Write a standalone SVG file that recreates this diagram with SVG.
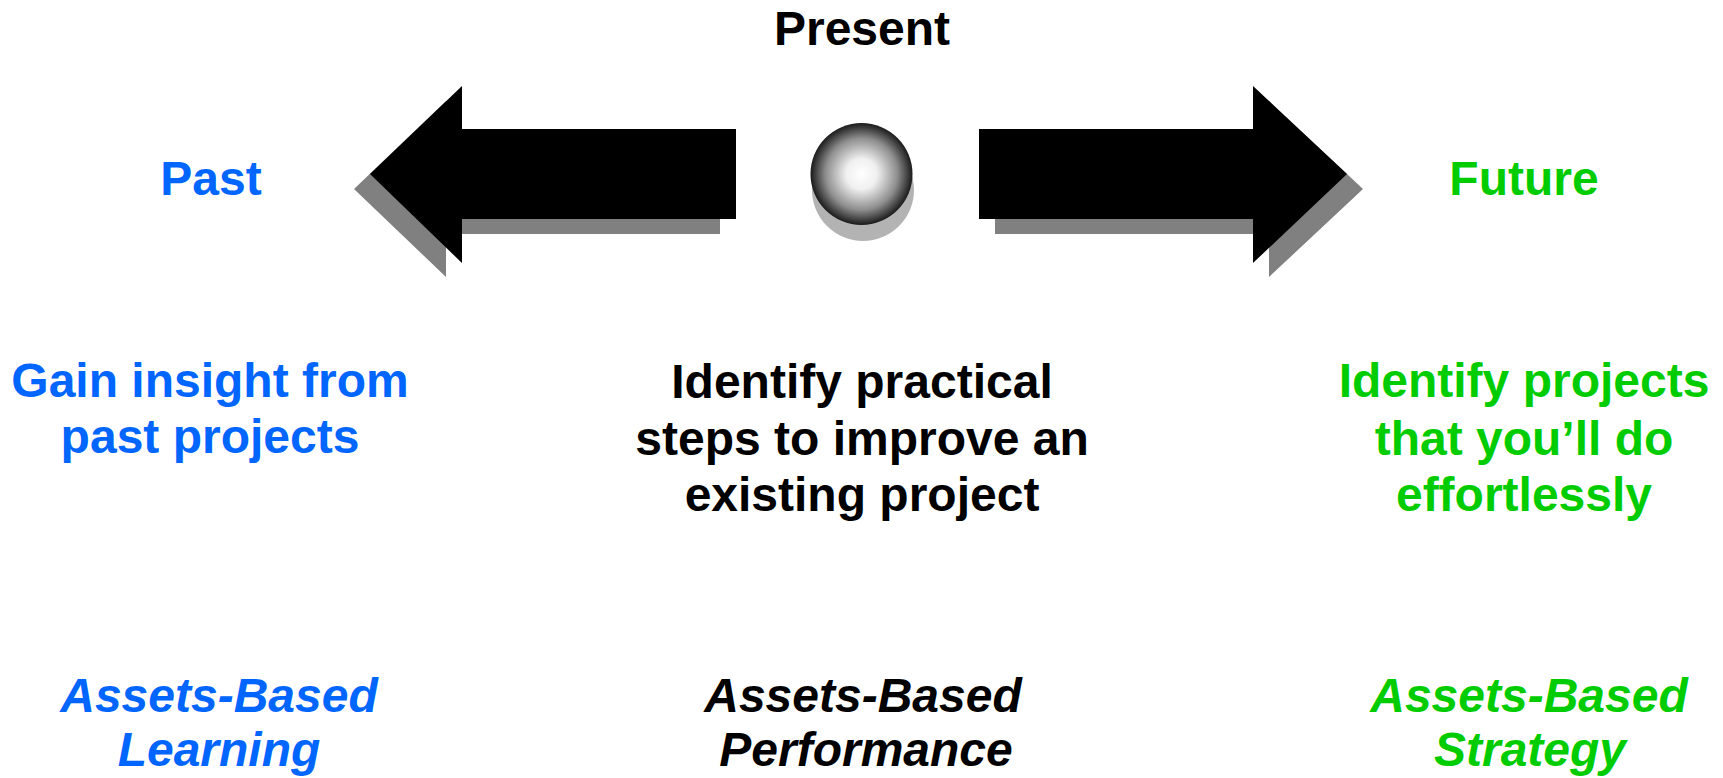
<svg xmlns="http://www.w3.org/2000/svg" width="1723" height="778" viewBox="0 0 1723 778">
  <style>
    text { font-family: "Liberation Sans", Arial, sans-serif; font-weight: bold; font-size: 48px; text-anchor: middle; }
    .it { font-style: italic; }
    .blue { fill: #0066ff; }
    .green { fill: #00cc00; }
    .black { fill: #000000; }
    .shadow { fill: #808080; }
  </style>
  <defs>
    <radialGradient id="ball" cx="0.5" cy="0.5" r="0.5">
      <stop offset="0" stop-color="#ffffff"/>
      <stop offset="0.3" stop-color="#f0f0f0"/>
      <stop offset="0.7" stop-color="#8f8f8f"/>
      <stop offset="1" stop-color="#1a1a1a"/>
    </radialGradient>
  </defs>

  <!-- headings -->
  <g id="present">
    <text x="862" y="45" class="black">Present</text>
  </g>
  <g id="past">
    <text x="211" y="195" class="blue">Past</text>
  </g>
  <g id="future">
    <text x="1524" y="195" class="green">Future</text>
  </g>

  <!-- arrows and present point -->
  <g id="connectors">
    <g id="arrow-left">
      <polygon class="shadow" points="354,189 446,101 446,144 720,144 720,234 446,234 446,277"/>
      <polygon class="black" points="370,174 462,86 462,129 736,129 736,219 462,219 462,263"/>
    </g>
    <g id="arrow-right">
      <polygon class="shadow" points="1363,189 1269,101 1269,144 995,144 995,234 1269,234 1269,277"/>
      <polygon class="black" points="1347,174 1253,86 1253,129 979,129 979,219 1253,219 1253,263"/>
    </g>
  </g>
  <g id="present-point">
    <circle cx="863" cy="190" r="51" fill="#b3b3b3"/>
    <circle cx="861.5" cy="174" r="51" fill="url(#ball)"/>
  </g>

  <!-- descriptions -->
  <g id="learning-desc">
    <text x="210" y="397" class="blue">Gain insight from</text>
    <text x="210" y="453" class="blue">past projects</text>
  </g>
  <g id="performance-desc">
    <text x="862" y="398" class="black">Identify practical</text>
    <text x="862" y="455" class="black">steps to improve an</text>
    <text x="862" y="511" class="black">existing project</text>
  </g>
  <g id="strategy-desc">
    <text x="1524" y="397" class="green">Identify projects</text>
    <text x="1524" y="455" class="green">that you’ll do</text>
    <text x="1524" y="511" class="green">effortlessly</text>
  </g>

  <!-- labels -->
  <g id="learning">
    <text x="219" y="712" class="it blue">Assets-Based</text>
    <text x="219" y="766" class="it blue">Learning</text>
  </g>
  <g id="performance">
    <text x="863" y="712" class="it black">Assets-Based</text>
    <text x="866" y="766" class="it black">Performance</text>
  </g>
  <g id="strategy">
    <text x="1529" y="712" class="it green">Assets-Based</text>
    <text x="1530" y="766" class="it green">Strategy</text>
  </g>
</svg>
